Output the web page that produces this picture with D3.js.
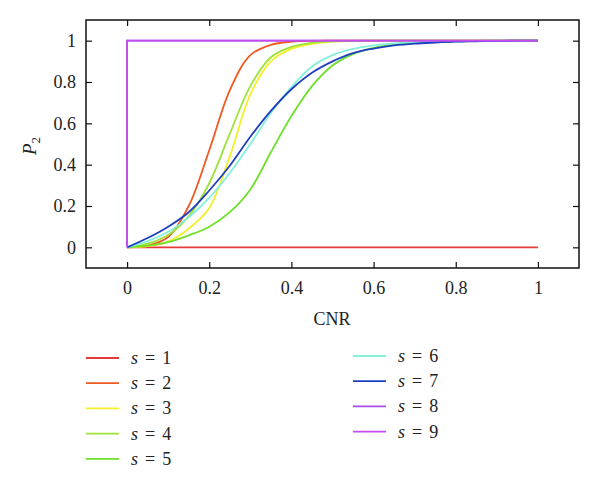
<!DOCTYPE html>
<html>
<head>
<meta charset="utf-8">
<script src="https://cdn.jsdelivr.net/npm/d3@7"></script>
<style>
  html, body { margin: 0; padding: 0; background: #fff; }
  svg { display: block; }
  text { font-family: "Liberation Serif", "Times New Roman", serif; fill: #222; }
</style>
</head>
<body>
<svg id="chart" width="600" height="500"></svg>
<script>
// ---- data ----
const cnr = [0, 0.05, 0.1, 0.15, 0.2, 0.25, 0.3, 0.35, 0.4, 0.45, 0.5, 0.55, 0.6, 0.65, 0.7, 0.75, 0.8, 0.85, 0.9, 0.95, 1];
const s1 = [0, 0, 0, 0, 0, 0, 0, 0, 0, 0, 0, 0, 0, 0, 0, 0, 0, 0, 0, 0, 0];
const s2 = [0, 0.008, 0.05, 0.2, 0.47, 0.76, 0.93, 0.98, 0.995, 0.999, 1, 1, 1, 1, 1, 1, 1, 1, 1, 1, 1];
const s3 = [0, 0.006, 0.028, 0.09, 0.19, 0.44, 0.74, 0.9, 0.96, 0.985, 0.995, 0.999, 1, 1, 1, 1, 1, 1, 1, 1, 1];
const s4 = [0, 0.018, 0.06, 0.15, 0.31, 0.55, 0.78, 0.92, 0.97, 0.99, 0.997, 0.999, 1, 1, 1, 1, 1, 1, 1, 1, 1];
const s5 = [0, 0.008, 0.025, 0.058, 0.1, 0.17, 0.28, 0.46, 0.635, 0.78, 0.88, 0.935, 0.965, 0.981, 0.99, 0.994, 0.997, 0.999, 1, 1, 1];
const s6 = [0, 0.03, 0.075, 0.145, 0.24, 0.36, 0.5, 0.65, 0.775, 0.875, 0.93, 0.96, 0.977, 0.987, 0.993, 0.996, 0.998, 0.999, 1, 1, 1];
const s7 = [0, 0.045, 0.1, 0.17, 0.275, 0.395, 0.535, 0.66, 0.765, 0.845, 0.9, 0.94, 0.962, 0.977, 0.986, 0.991, 0.995, 0.997, 0.999, 1, 1];
const stepCnr = [0, 0, 0.5, 1];
const s8 = [0, 1, 1, 1];
const s9 = [0, 1, 1, 1];
const seriesNames = ["s = 1", "s = 2", "s = 3", "s = 4", "s = 5", "s = 6", "s = 7", "s = 8", "s = 9"];
const seriesColors = ["#e53a3a", "#ee5a20", "#f2f028", "#9ee23a", "#6ee02a", "#84f0dc", "#1f3fc0", "#a64ee6", "#c64cf0"];
const xTicks = [0, 0.2, 0.4, 0.6, 0.8, 1];
const yTicks = [0, 0.2, 0.4, 0.6, 0.8, 1];

const series = [
  {x: cnr, y: s1}, {x: cnr, y: s2}, {x: cnr, y: s3}, {x: cnr, y: s4}, {x: cnr, y: s5},
  {x: cnr, y: s6}, {x: cnr, y: s7}, {x: stepCnr, y: s8, step: true}, {x: stepCnr, y: s9, step: true}
];

// ---- layout ----
const svg = d3.select("#chart");
const L = 86, R = 579, T = 20, B = 268;
const x = d3.scaleLinear().domain([-0.1, 1.1]).range([L, R]);
const y = d3.scaleLinear().domain([-0.1, 1.1]).range([B, T]);
const fmt = d => d === 0 ? "0" : d === 1 ? "1" : String(d);

// axes with inward ticks
const tl = 6;
svg.append("g").attr("transform", `translate(0,${B})`)
  .call(d3.axisBottom(x).tickValues(xTicks).tickFormat(fmt).tickSizeInner(-tl).tickSizeOuter(0).tickPadding(13))
  .call(g => { g.select(".domain").remove(); g.selectAll("text").attr("font-size", 18).attr("dy", "0.71em"); });
svg.append("g").attr("transform", `translate(0,${T})`)
  .call(d3.axisTop(x).tickValues(xTicks).tickFormat("").tickSizeInner(-tl).tickSizeOuter(0))
  .call(g => g.select(".domain").remove());
svg.append("g").attr("transform", `translate(${L},0)`)
  .call(d3.axisLeft(y).tickValues(yTicks).tickFormat(fmt).tickSizeInner(-tl).tickSizeOuter(0).tickPadding(10))
  .call(g => { g.select(".domain").remove(); g.selectAll("text").attr("font-size", 18); });
svg.append("g").attr("transform", `translate(${R},0)`)
  .call(d3.axisRight(y).tickValues(yTicks).tickFormat("").tickSizeInner(-tl).tickSizeOuter(0))
  .call(g => g.select(".domain").remove());
svg.selectAll(".tick line").attr("stroke", "#111").attr("stroke-width", 1.2);

svg.append("rect").attr("x", L).attr("y", T).attr("width", R - L).attr("height", B - T)
  .attr("fill", "none").attr("stroke", "#111").attr("stroke-width", 1.5);

// curves
const smooth = d3.line().x(d => x(d[0])).y(d => y(d[1])).curve(d3.curveCatmullRom.alpha(0.5));
const straight = d3.line().x(d => x(d[0])).y(d => y(d[1]));
series.forEach((s, i) => {
  const pts = s.x.map((v, j) => [v, s.y[j]]);
  svg.append("path").attr("d", (s.step ? straight : smooth)(pts))
    .attr("fill", "none").attr("stroke", seriesColors[i]).attr("stroke-width", 1.8);
});

// axis titles
svg.append("text").attr("x", 332).attr("y", 325).attr("text-anchor", "middle")
  .attr("font-size", 18).text("CNR");
const yl = svg.append("text").attr("transform", "translate(36,146) rotate(-90)")
  .attr("text-anchor", "middle").attr("font-size", 19);
yl.append("tspan").attr("font-style", "italic").text("P");
yl.append("tspan").attr("font-size", 13).attr("dy", 4).text("2");

// legend
const leg = svg.append("g");
seriesNames.forEach((name, i) => {
  const col = i < 5 ? 0 : 1;
  const row = i < 5 ? i : i - 5;
  const lx = col === 0 ? 86 : 353;
  const ly = (col === 0 ? 358 : 356) + row * 25.2;
  leg.append("line").attr("x1", lx).attr("x2", lx + 33).attr("y1", ly).attr("y2", ly)
    .attr("stroke", seriesColors[i]).attr("stroke-width", 1.8);
  const t = leg.append("text").attr("x", lx + 45).attr("y", ly + 6).attr("font-size", 18);
  const parts = name.split(" = ");
  t.append("tspan").attr("font-style", "italic").text(parts[0].trim());
  t.append("tspan").attr("dx", 7).text("=");
  t.append("tspan").attr("dx", 7).text(parts[1]);
});
</script>
</body>
</html>
